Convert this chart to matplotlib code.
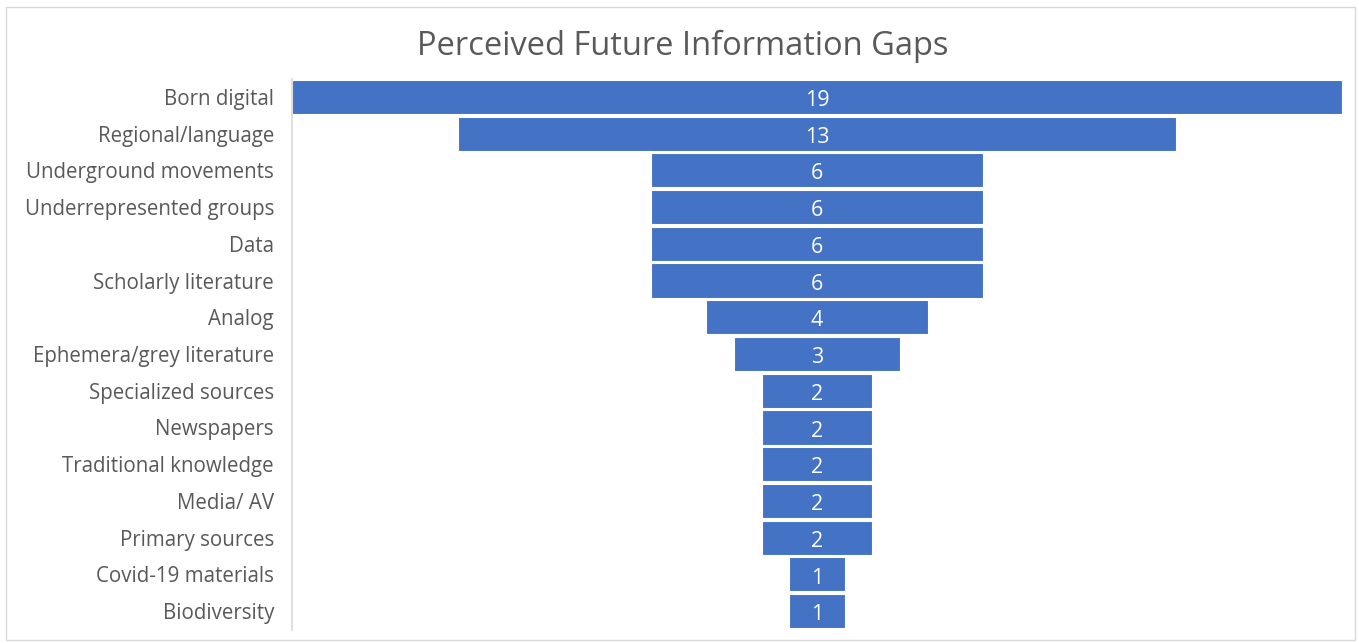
import matplotlib.pyplot as plt
from matplotlib.patches import Rectangle

categories = ["Born digital", "Regional/language", "Underground movements",
              "Underrepresented groups", "Data", "Scholarly literature", "Analog",
              "Ephemera/grey literature", "Specialized sources", "Newspapers",
              "Traditional knowledge", "Media/ AV", "Primary sources",
              "Covid-19 materials", "Biodiversity"]
counts = [19, 13, 6, 6, 6, 6, 4, 3, 2, 2, 2, 2, 2, 1, 1]

plt.rcParams['font.family'] = ['Open Sans', 'DejaVu Sans']

fig = plt.figure(figsize=(13.59, 6.43), dpi=100)
ax = fig.add_axes([292 / 1359, 1 - 629.5 / 643, 1050 / 1359, 551 / 643])

n = len(categories)
ys = list(range(n))
lefts = [-c / 2 for c in counts]
ax.barh(ys, counts, left=lefts, height=0.93, color='#4472C4',
        edgecolor='white', linewidth=0.8)
for y, c in zip(ys, counts):
    ax.text(0, y + 0.03, str(c), ha='center', va='center_baseline',
            color='white', fontsize=15.5)

ax.set_xlim(-max(counts) / 2, max(counts) / 2)
ax.set_ylim(n - 0.5, -0.5)
ax.set_yticks(ys)
ax.set_yticklabels(categories, fontsize=14.8, color='#595959')
ax.tick_params(axis='y', length=0, pad=13)
ax.set_xticks([])
for s in ['top', 'right', 'bottom']:
    ax.spines[s].set_visible(False)
ax.spines['left'].set_color('#D9D9D9')
ax.spines['left'].set_linewidth(1.2)

fig.text(683 / 1359, 1 - 46 / 643, "Perceived Future Information Gaps",
         ha='center', va='center', fontsize=23.5, color='#595959')

fig.patches.append(Rectangle((6 / 1359, 3 / 643), 1349 / 1359, 633 / 643,
                             transform=fig.transFigure, fill=False,
                             edgecolor='#D9D9D9', linewidth=1))

fig.savefig("out.png", dpi=100)
